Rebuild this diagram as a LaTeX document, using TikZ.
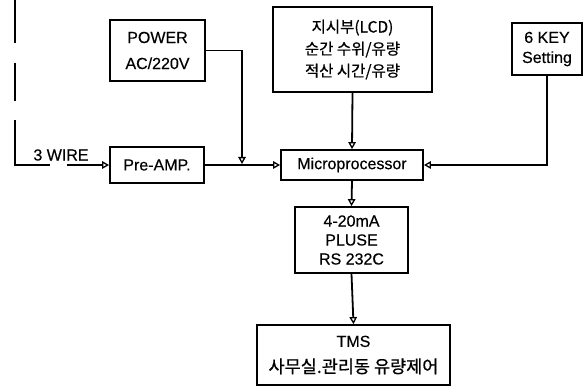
\documentclass[tikz,border=0pt]{standalone}
\usepackage{fontspec}
\setmainfont{Liberation Sans}[FakeBold=0.4]
\newfontfamily\kr{Noto Sans CJK KR}[FakeBold=0.8]
\usetikzlibrary{arrows.meta}
\begin{document}
\begin{tikzpicture}[x=1pt,y=-1pt,
  blk/.style={draw, line width=1.8pt, inner sep=0pt, align=center, font=\fontsize{16}{20}\selectfont},
  wire/.style={line width=1.8pt},
  arr/.style={wire, -{Triangle[open,length=7pt,width=7.5pt,line width=1.3pt]}}]
\useasboundingbox (0,0) rectangle (587,387);
\node[blk, minimum width=95pt, minimum height=61pt, font=\fontsize{16}{26}\selectfont] (power) at (157.5,50.5) {POWER\\AC/220V};
\node[blk, minimum width=159pt, minimum height=85pt, font=\kr\fontsize{15.5}{22}\selectfont] (lcd) at (352.5,49.5) {지시부(LCD)\\순간 수위/유량\\적산 시간/유량};
\node[blk, minimum width=70pt, minimum height=52pt, font=\fontsize{16}{20}\selectfont] (key) at (547,49) {6 KEY\\Setting};
\node[blk, minimum width=94pt, minimum height=36pt] (pre) at (157,165) {Pre-AMP.};
\node[blk, minimum width=142pt, minimum height=30pt] (mic) at (352,165) {Microprocessor};
\node[blk, minimum width=113pt, minimum height=66pt, font=\fontsize{16}{19}\selectfont] (out) at (351.5,240) {4-20mA\\PLUSE\\RS 232C};
\node[blk, minimum width=193pt, minimum height=60pt, font=\fontsize{16}{26}\selectfont] (tms) at (353.5,355) {TMS\\{\kr\fontsize{17.5}{26}\selectfont 사무실.관리동 유량제어}};
\node[font=\fontsize{16}{18}\selectfont] (lbl) at (61,155) {3 WIRE};
\coordinate (w0) at (15,0);
\coordinate (w1) at (15,43);
\coordinate (w2) at (15,63);
\coordinate (w3) at (15,101);
\coordinate (w4) at (15,120);
\coordinate (w5) at (15,165);
\coordinate (w6) at (50,165);
\coordinate (w7) at (67,165);
\coordinate (j) at (242,164);
\draw[wire] (w0) -- (w1);
\draw[wire] (w2) -- (w3);
\draw[wire] (w4) -- (w5) -- (w6);
\draw[arr] (w7) -- (pre.west);
\draw[arr] (pre.east) -- (mic.west);
\draw[arr] (power.east) -| (j);
\draw[arr] (lcd.south) -- (mic.north);
\draw[arr] (key.south) |- (mic.east);
\draw[arr] (mic.south) -- (out.north);
\draw[arr] (out.south) -- (tms.north);
\end{tikzpicture}
\end{document}
